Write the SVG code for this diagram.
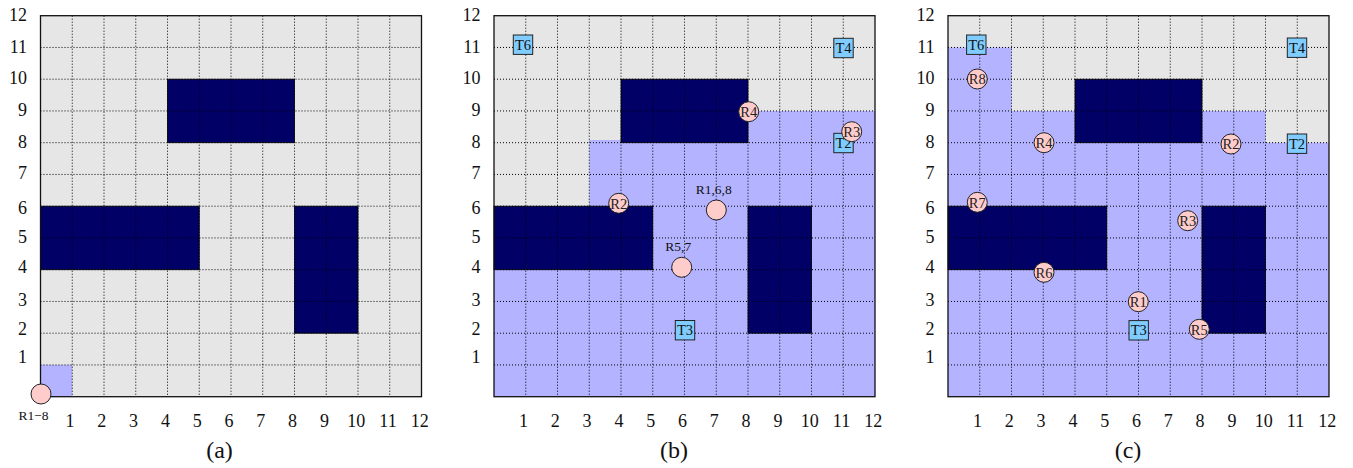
<svg xmlns="http://www.w3.org/2000/svg" xmlns:xlink="http://www.w3.org/1999/xlink" width="1353" height="468" viewBox="0 0 1353 468">
<style>
text{font-family:"Liberation Serif","Times New Roman",serif;fill:#111}
.bg{fill:#e6e6e6}
.exp{fill:#b3b3ff}
.obs{fill:#000066;stroke:#000;stroke-width:0.8}
.grid{fill:none;stroke:#000;stroke-width:1;stroke-dasharray:1 2}
.frame{fill:none;stroke:#111;stroke-width:1.3}
.ax{font-size:18px}
.ay{font-size:18px;text-anchor:end}
.cap{font-size:24px;text-anchor:middle}
.rob circle{fill:#ffcccc;stroke:#222;stroke-width:1}
.rob text{font-size:14.5px;text-anchor:middle;fill:#222}
.tgt rect{fill:#80ccff;stroke:#222;stroke-width:1}
.tgt text{font-size:14.5px;text-anchor:middle;fill:#111}
.lbl{font-size:13.5px;text-anchor:middle}
</style>
<defs>
<g id="obstacles">
<rect class="obs" x="127" y="79.2" width="127" height="63.5"/>
<rect class="obs" x="0" y="206.2" width="158.75" height="63.5"/>
<rect class="obs" x="254" y="206.2" width="63.5" height="127"/>
</g>
<path id="gridlines" class="grid" d="M31.75 15.7V396.7M63.5 15.7V396.7M95.25 15.7V396.7M127 15.7V396.7M158.75 15.7V396.7M190.5 15.7V396.7M222.25 15.7V396.7M254 15.7V396.7M285.75 15.7V396.7M317.5 15.7V396.7M349.25 15.7V396.7M0 47.45H381M0 79.2H381M0 110.95H381M0 142.7H381M0 174.45H381M0 206.2H381M0 237.95H381M0 269.7H381M0 301.45H381M0 333.2H381M0 364.95H381"/>
<rect id="frame" class="frame" x="0" y="15.7" width="381" height="381"/>
<g id="axes">
<text class="ay" x="-13.5" y="21">12</text>
<text class="ay" x="-13.5" y="52.7">11</text>
<text class="ay" x="-13.5" y="84.3">10</text>
<text class="ay" x="-13.5" y="116">9</text>
<text class="ay" x="-13.5" y="147.7">8</text>
<text class="ay" x="-13.5" y="179.3">7</text>
<text class="ay" x="-13.5" y="214.3">6</text>
<text class="ay" x="-13.5" y="242.7">5</text>
<text class="ay" x="-13.5" y="273.3">4</text>
<text class="ay" x="-13.5" y="306">3</text>
<text class="ay" x="-13.5" y="335.3">2</text>
<text class="ay" x="-13.5" y="362.7">1</text>
<text class="ax" x="29.5" y="426.5" text-anchor="middle">1</text>
<text class="ax" x="61.3" y="426.5" text-anchor="middle">2</text>
<text class="ax" x="93.1" y="426.5" text-anchor="middle">3</text>
<text class="ax" x="124.9" y="426.5" text-anchor="middle">4</text>
<text class="ax" x="156.7" y="426.5" text-anchor="middle">5</text>
<text class="ax" x="188.5" y="426.5" text-anchor="middle">6</text>
<text class="ax" x="220.3" y="426.5" text-anchor="middle">7</text>
<text class="ax" x="252.1" y="426.5" text-anchor="middle">8</text>
<text class="ax" x="283.9" y="426.5" text-anchor="middle">9</text>
<text class="ax" x="315.7" y="426.5" text-anchor="middle">10</text>
<text class="ax" x="347.5" y="426.5" text-anchor="middle">11</text>
<text class="ax" x="379.3" y="426.5" text-anchor="middle">12</text>
</g>
</defs>

<g id="panel-a" transform="translate(40.5,0)">
<rect class="bg" x="0" y="15.7" width="381" height="381"/>
<rect class="exp" x="0" y="364.95" width="31.75" height="31.75"/>
<use xlink:href="#obstacles"/>
<use xlink:href="#gridlines"/>
<use xlink:href="#frame"/>
<use xlink:href="#axes"/>
<text class="cap" x="179" y="458">(a)</text>
<g id="a-R1-8" class="rob"><circle cx="0.5" cy="394" r="10"/></g>
<text class="lbl" x="-7" y="420">R1−8</text>
</g>

<g id="panel-b" transform="translate(494,0)">
<rect class="bg" x="0" y="15.7" width="381" height="381"/>
<polygon class="exp" points="0,396.7 381,396.7 381,110.95 254,110.95 254,140 95.25,140 95.25,206.2 0,206.2"/>
<use xlink:href="#obstacles"/>
<use xlink:href="#gridlines"/>
<use xlink:href="#frame"/>
<use xlink:href="#axes"/>
<text class="cap" x="180" y="458">(b)</text>
<g id="b-T6" class="tgt"><rect x="19.3" y="35" width="19.4" height="19.4"/><text x="29" y="49.8">T6</text></g>
<g id="b-T4" class="tgt"><rect x="339.8" y="38.3" width="19.4" height="19.4"/><text x="349.5" y="53.1">T4</text></g>
<g id="b-T2" class="tgt"><rect x="339.8" y="133.3" width="19.4" height="19.4"/><text x="349.5" y="148.1">T2</text></g>
<g id="b-T3" class="tgt"><rect x="181.3" y="320.5" width="19.4" height="19.4"/><text x="191" y="335.3">T3</text></g>
<g id="b-R4" class="rob"><circle cx="254.7" cy="111.7" r="10"/><text x="254.7" y="117">R4</text></g>
<g id="b-R3" class="rob"><circle cx="357.7" cy="131.7" r="10"/><text x="357.7" y="137">R3</text></g>
<g id="b-R2" class="rob"><circle cx="124.7" cy="203.3" r="10"/><text x="124.7" y="208.6">R2</text></g>
<g id="b-R1-6-8" class="rob"><circle cx="222.3" cy="210" r="10"/></g>
<text class="lbl" x="219.7" y="194">R1,6,8</text>
<g id="b-R5-7" class="rob"><circle cx="187.7" cy="267.3" r="10"/></g>
<text class="lbl" x="184.3" y="251">R5,7</text>
</g>

<g id="panel-c" transform="translate(948,0)">
<rect class="bg" x="0" y="15.7" width="381" height="381"/>
<polygon class="exp" points="0,396.7 381,396.7 381,142.7 317.5,142.7 317.5,110.95 63.5,110.95 63.5,47.45 0,47.45"/>
<use xlink:href="#obstacles"/>
<use xlink:href="#gridlines"/>
<use xlink:href="#frame"/>
<use xlink:href="#axes"/>
<text class="cap" x="180" y="458">(c)</text>
<g id="c-T6" class="tgt"><rect x="18.6" y="35" width="19.4" height="19.4"/><text x="28.3" y="49.8">T6</text></g>
<g id="c-T4" class="tgt"><rect x="339.3" y="38" width="19.4" height="19.4"/><text x="349" y="52.8">T4</text></g>
<g id="c-T2" class="tgt"><rect x="339.3" y="134" width="19.4" height="19.4"/><text x="349" y="148.8">T2</text></g>
<g id="c-T3" class="tgt"><rect x="181" y="320.6" width="19.4" height="19.4"/><text x="190.7" y="335.4">T3</text></g>
<g id="c-R8" class="rob"><circle cx="29.3" cy="79" r="10"/><text x="29.3" y="84.3">R8</text></g>
<g id="c-R4" class="rob"><circle cx="96" cy="142.7" r="10"/><text x="96" y="148">R4</text></g>
<g id="c-R7" class="rob"><circle cx="29.3" cy="202.3" r="10"/><text x="29.3" y="207.6">R7</text></g>
<g id="c-R2" class="rob"><circle cx="283" cy="144" r="10"/><text x="283" y="149.3">R2</text></g>
<g id="c-R3" class="rob"><circle cx="239.7" cy="220.7" r="10"/><text x="239.7" y="226">R3</text></g>
<g id="c-R6" class="rob"><circle cx="96" cy="272.3" r="10"/><text x="96" y="277.6">R6</text></g>
<g id="c-R1" class="rob"><circle cx="190.3" cy="301.7" r="10"/><text x="190.3" y="307">R1</text></g>
<g id="c-R5" class="rob"><circle cx="251.3" cy="329.3" r="10"/><text x="251.3" y="334.6">R5</text></g>
</g>

<g id="connectors"/>
</svg>
